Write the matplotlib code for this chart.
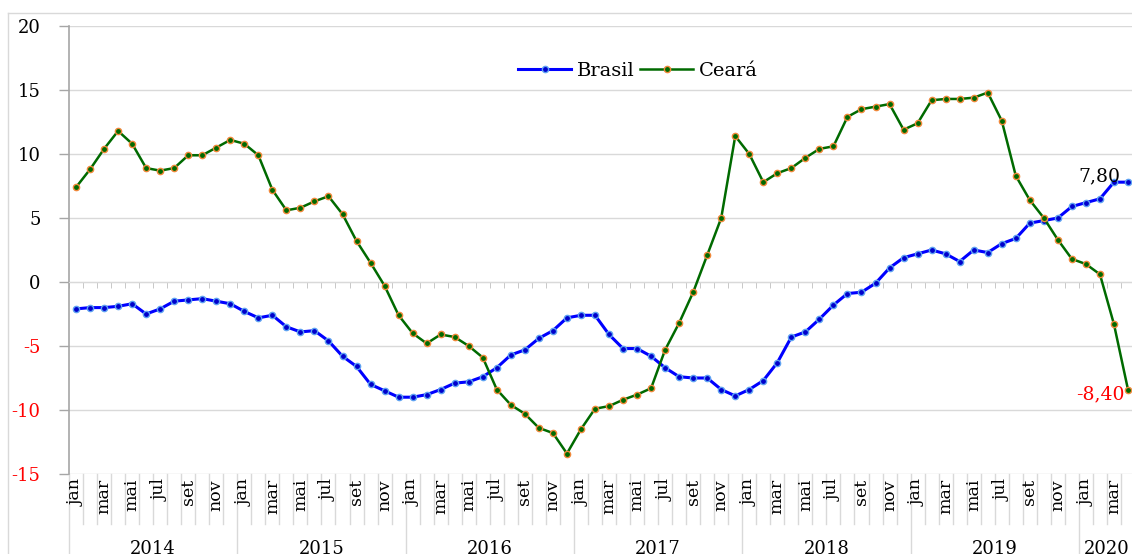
import matplotlib.pyplot as plt
import numpy as np
from matplotlib.lines import Line2D

plt.rcParams['font.family'] = ['DejaVu Serif']
plt.rcParams['axes.unicode_minus'] = False

# dados mensais jan/2014 - abr/2020
years = ['2014', '2015', '2016', '2017', '2018', '2019', '2020']
month_labels = ['jan', 'mar', 'mai', 'jul', 'set', 'nov']

brasil = [-2.1, -2.0, -2.0, -1.9, -1.7, -2.5, -2.1, -1.5, -1.4, -1.3, -1.5, -1.7,
          -2.3, -2.8, -2.6, -3.5, -3.9, -3.8, -4.6, -5.8, -6.6, -8.0, -8.5, -9.0,
          -9.0, -8.8, -8.4, -7.9, -7.8, -7.4, -6.7, -5.7, -5.3, -4.4, -3.8, -2.8,
          -2.6, -2.6, -4.1, -5.2, -5.2, -5.8, -6.7, -7.4, -7.5, -7.5, -8.4, -8.9,
          -8.4, -7.7, -6.3, -4.3, -3.9, -2.9, -1.8, -0.9, -0.8, -0.1, 1.1, 1.9,
          2.2, 2.5, 2.2, 1.6, 2.5, 2.3, 3.0, 3.4, 4.6, 4.8, 5.0, 5.9,
          6.2, 6.5, 7.8, 7.8]

ceara = [7.4, 8.8, 10.4, 11.8, 10.8, 8.9, 8.7, 8.9, 9.9, 9.9, 10.5, 11.1,
         10.8, 9.9, 7.2, 5.6, 5.8, 6.3, 6.7, 5.3, 3.2, 1.5, -0.3, -2.6,
         -4.0, -4.8, -4.1, -4.3, -5.0, -5.9, -8.4, -9.6, -10.3, -11.4, -11.8, -13.4,
         -11.5, -9.9, -9.7, -9.2, -8.8, -8.3, -5.3, -3.2, -0.8, 2.1, 5.0, 11.4,
         10.0, 7.8, 8.5, 8.9, 9.7, 10.4, 10.6, 12.9, 13.5, 13.7, 13.9, 11.9,
         12.4, 14.2, 14.3, 14.3, 14.4, 14.8, 12.6, 8.3, 6.4, 5.0, 3.3, 1.8,
         1.4, 0.6, -3.3, -8.4]

W, H = 1132, 554
fig = plt.figure(figsize=(W / 100, H / 100), dpi=100)
ax = fig.add_axes([69 / W, (H - 474) / H, 1066 / W, 448 / H])

x = np.arange(len(brasil))
ax.plot(x, brasil, color='#0000ff', lw=2.2, marker='o', ms=4.5,
        mfc='#0000cc', mec='#5ea2f2', mew=1.0, label='Brasil', zorder=3)
ax.plot(x, ceara, color='#006a00', lw=1.8, marker='o', ms=4.5,
        mfc='#006a00', mec='#f0883a', mew=1.0, label='Ceará', zorder=3)

ax.set_xlim(-0.5, len(x) - 0.5)
ax.set_ylim(-15, 20)
ax.set_yticks(np.arange(-15, 21, 5))
ax.grid(axis='y', color='#d9d9d9', lw=1)
ax.set_axisbelow(True)
ax.tick_params(axis='y', direction='out', length=7, width=1, color='#a6a6a6',
               labelsize=13, pad=13.5)
for lab, v in zip(ax.get_yticklabels(), np.arange(-15, 21, 5)):
    lab.set_color('red' if v < 0 else 'black')

for s in ['top', 'right']:
    ax.spines[s].set_visible(False)
ax.spines['left'].set_color('#a6a6a6')
ax.spines['left'].set_linewidth(1.2)
ax.spines['bottom'].set_position(('data', 0))
ax.spines['bottom'].set_color('#d9d9d9')
ax.set_xticks([])
ax.set_xticks(np.arange(-0.5, len(x)), minor=True)
ax.tick_params(axis='x', which='minor', direction='out', length=4, color='#bfbfbf')

# eixo de categorias (meses / anos)
tr = ax.get_xaxis_transform()
for b in np.arange(-0.5, len(x)):
    y0 = -80 / 448 if (b + 0.5) % 12 == 0 else -50 / 448
    ax.plot([b, b], [0, y0], transform=tr, color='#d9d9d9', lw=1, clip_on=False)
for i in range(0, len(x), 2):
    ax.text(i, -5 / 448, month_labels[(i % 12) // 2], transform=tr, rotation=90,
            ha='center', va='top', fontsize=12.5)
for k, yr in enumerate(years):
    start = k * 12 - 0.5
    end = min(start + 12, len(x) - 0.5)
    ax.text((start + end) / 2, -66 / 448, yr, transform=tr, ha='center', va='top',
            fontsize=13)

# rótulos dos últimos valores
ax.annotate(f"{brasil[-1]:.2f}".replace('.', ','), xy=(x[-1], brasil[-1]),
            xytext=(-8, 6), textcoords='offset pixels', ha='right', va='center',
            fontsize=13.5, color='black')
ax.annotate(f"{ceara[-1]:.2f}".replace('.', ','), xy=(x[-1], ceara[-1]),
            xytext=(-3, -5), textcoords='offset pixels', ha='right', va='center',
            fontsize=13.5, color='red')

fig.legend(loc='center', bbox_to_anchor=(638 / W, 1 - 71 / H), ncol=2, frameon=False,
           fontsize=14, handlelength=2.7, handletextpad=0.3, columnspacing=0.3,
           borderpad=0)

# borda da área do gráfico
fig.add_artist(Line2D([8 / W, 8 / W], [0, 1 - 13 / H], color='#d9d9d9', lw=1))
fig.add_artist(Line2D([8 / W, 1], [1 - 13 / H, 1 - 13 / H], color='#d9d9d9', lw=1))

fig.savefig('out.png', dpi=100)
